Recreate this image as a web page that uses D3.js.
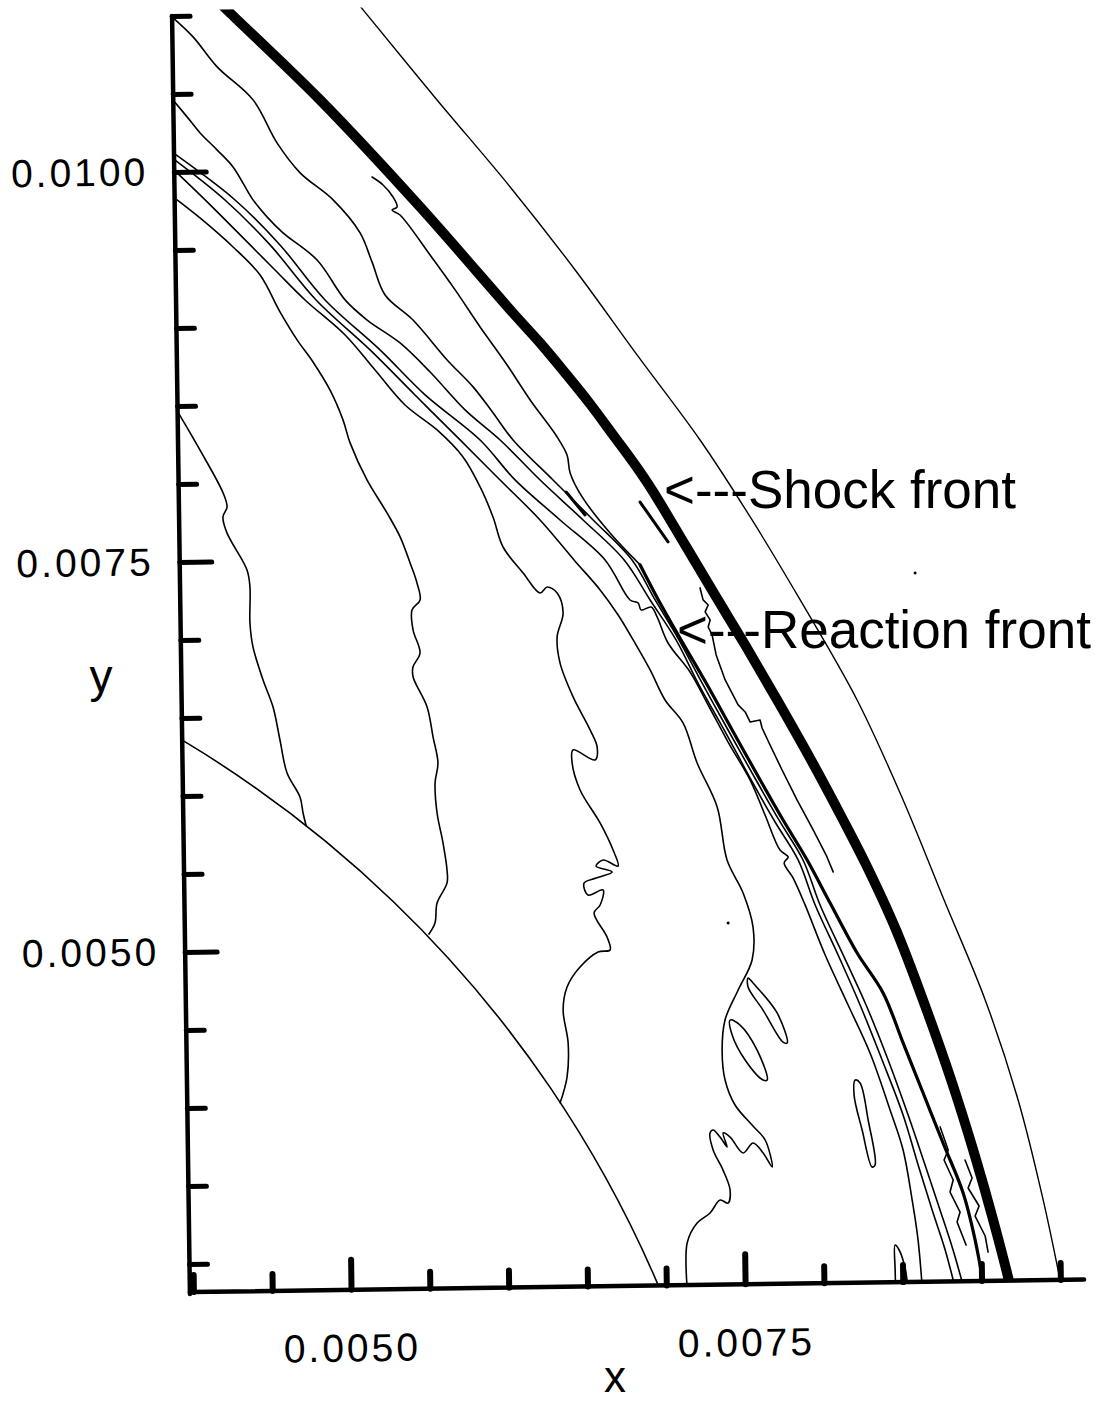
<!DOCTYPE html>
<html>
<head>
<meta charset="utf-8">
<script src="https://cdn.jsdelivr.net/npm/d3@7"></script>
<style>
  html, body { margin: 0; padding: 0; background: #fff; }
  svg { display: block; }
  text { font-family: "Liberation Sans", Arial, Helvetica, sans-serif; fill: #000; }
</style>
</head>
<body>
<svg id="chart" width="1106" height="1405"></svg>
<script>
// All coordinates below are in units of 1e-3 (x, y).

// Axis ticks
const xMajorTicks = [5.0, 7.5];
const xMinorTicks = [4.0, 4.5, 5.5, 6.0, 6.5, 7.0, 8.0, 8.5, 9.0, 9.5];
const yMajorTicks = [5.0, 7.5, 10.0];
const yMinorTicks = [3.0, 3.5, 4.0, 4.5, 5.5, 6.0, 6.5, 7.0, 8.0, 8.5, 9.0, 9.5, 10.5, 11.0];
const xTickLabels = ["0.0050", "0.0075"];
const yTickLabels = ["0.0050", "0.0075", "0.0100"];
const xDomain = [4.0, 9.65];
const yDomain = [2.82, 11.0];

// Initial charge boundary (circle about the origin)
const chargeRadius = 7.5;

// Outermost contour
const outerContour = [[5.140,11.087],[5.190,11.022],[5.651,10.438],[6.107,9.874],[6.512,9.336],[6.897,8.786],[7.289,8.235],[7.612,7.718],[7.910,7.201],[8.262,6.555],[8.545,5.910],[8.796,5.265],[9.048,4.621],[9.248,3.977],[9.398,3.334],[9.510,2.755]];

// Shock front
const shockFront = [[4.283,11.079],[4.346,11.014],[4.909,10.449],[5.534,9.754],[6.114,9.066],[6.283,8.872],[6.445,8.670],[6.595,8.476],[6.738,8.275],[6.875,8.081],[6.980,7.919],[7.185,7.564],[7.377,7.228],[7.557,6.917],[7.755,6.562],[7.965,6.174],[8.163,5.787],[8.305,5.497],[8.489,5.077],[8.660,4.607],[8.825,4.111],[8.964,3.641],[9.079,3.210],[9.187,2.759],[9.205,2.663]];

// Reaction front: thin upper part and heavy lower part
const reactionUpper = [[5.232,9.950],[5.301,9.898],[5.363,9.820],[5.388,9.756],[5.356,9.737],[5.406,9.704],[5.593,9.445],[5.749,9.219],[5.904,8.979],[6.059,8.753],[6.215,8.507],[6.383,8.267],[6.444,8.151],[6.462,8.036],[6.536,7.881],[6.710,7.647],[6.898,7.440]];
const reactionFront = [[6.898,7.440],[7.021,7.194],[7.151,6.955],[7.306,6.677],[7.467,6.374],[7.640,6.051],[7.782,5.792],[7.931,5.534],[8.073,5.256],[8.240,4.933],[8.401,4.675],[8.524,4.352],[8.646,4.030],[8.768,3.708],[8.891,3.386],[8.963,3.083],[9.027,2.698]];

// Interior contours, top of the y axis downwards
const contourTop = [[3.984,10.988],[4.109,10.864],[4.259,10.670],[4.484,10.455],[4.632,10.177],[4.776,9.983],[4.983,9.807],[5.151,9.593],[5.224,9.406],[5.304,9.193],[5.479,9.030],[5.692,8.771],[5.854,8.596],[5.979,8.427],[6.103,8.252],[6.353,7.992],[6.604,7.732],[6.847,7.472],[6.990,7.214],[7.138,6.955],[7.287,6.665],[7.441,6.374],[7.614,6.051],[7.763,5.780],[7.905,5.534],[8.009,5.244],[8.151,4.922],[8.292,4.599],[8.427,4.245],[8.549,3.890],[8.652,3.568],[8.743,3.279],[8.822,3.021],[8.907,2.699]];
const contourSecond = [[3.976,10.462],[4.064,10.352],[4.145,10.248],[4.251,10.138],[4.351,10.027],[4.475,9.814],[4.562,9.704],[4.662,9.600],[4.876,9.423],[5.050,9.165],[5.188,9.034],[5.395,8.884],[5.583,8.695],[5.801,8.449],[6.021,8.253],[6.271,7.993],[6.540,7.733],[6.797,7.473],[6.958,7.214],[7.119,6.956],[7.261,6.665],[7.416,6.375],[7.583,6.052],[7.731,5.780],[7.874,5.535],[7.978,5.245],[8.119,4.922],[8.254,4.600],[8.389,4.245],[8.517,3.891],[8.608,3.569],[8.693,3.279],[8.772,3.022],[8.850,2.700]];
const contourJagged = [[3.991,10.109],[4.361,9.815],[4.642,9.523],[4.923,9.166],[5.267,8.841],[5.549,8.549],[5.894,8.255],[6.112,7.996],[6.394,7.735],[6.676,7.475],[6.831,7.216],[6.882,7.196],[6.900,7.151],[6.964,7.169],[7.001,7.105],[7.068,6.937],[7.205,6.749],[7.317,6.536],[7.440,6.297],[7.576,6.052],[7.668,5.826],[7.760,5.600],[7.811,5.555],[7.785,5.517],[7.840,5.420],[7.914,5.246],[8.037,4.923],[8.178,4.601],[8.313,4.291],[8.435,3.924],[8.514,3.667],[8.567,3.345],[8.601,3.088],[8.628,2.703]];
const contourWavyRight = [[3.990,10.071],[4.297,9.816],[4.579,9.524],[4.866,9.167],[5.204,8.842],[5.485,8.549],[5.767,8.257],[6.017,7.997],[6.267,7.737],[6.479,7.478],[6.642,7.283],[6.754,7.121],[6.847,6.960],[6.952,6.766],[7.044,6.572],[7.156,6.423],[7.242,6.165],[7.365,5.882],[7.423,5.541],[7.522,5.328],[7.582,5.109],[7.573,4.898],[7.482,4.707],[7.396,4.516],[7.375,4.324],[7.391,4.131],[7.452,3.970],[7.558,3.840],[7.640,3.743],[7.682,3.569],[7.626,3.660],[7.563,3.725],[7.499,3.662],[7.418,3.765],[7.374,3.792],[7.398,3.702],[7.354,3.766],[7.311,3.812],[7.291,3.793],[7.309,3.684],[7.370,3.554],[7.413,3.426],[7.399,3.342],[7.349,3.362],[7.284,3.280],[7.201,3.217],[7.136,3.090],[7.137,2.724]];
const contourWavyMid = [[3.989,10.000],[4.171,9.818],[4.390,9.591],[4.608,9.363],[4.796,9.168],[5.047,8.940],[5.234,8.713],[5.421,8.486],[5.622,8.323],[5.784,8.148],[5.890,7.954],[5.969,7.760],[6.030,7.567],[6.155,7.399],[6.261,7.269],[6.306,7.307],[6.369,7.268],[6.405,7.139],[6.365,6.986],[6.381,6.819],[6.461,6.600],[6.566,6.387],[6.609,6.277],[6.595,6.194],[6.456,6.260],[6.449,6.177],[6.497,6.003],[6.621,5.790],[6.701,5.615],[6.731,5.512],[6.637,5.552],[6.592,5.514],[6.693,5.474],[6.591,5.437],[6.514,5.406],[6.538,5.329],[6.634,5.360],[6.614,5.264],[6.575,5.213],[6.655,5.058],[6.673,4.975],[6.597,4.963],[6.481,4.868],[6.397,4.741],[6.370,4.594],[6.399,4.382],[6.389,4.164],[6.343,4.000]];
const contourWavyLeft = [[3.993,9.821],[4.137,9.703],[4.344,9.514],[4.513,9.332],[4.636,9.094],[4.742,8.913],[4.841,8.770],[4.946,8.589],[5.026,8.396],[5.069,8.248],[5.173,8.009],[5.297,7.796],[5.378,7.641],[5.439,7.473],[5.481,7.344],[5.499,7.235],[5.447,7.172],[5.452,7.043],[5.494,6.895],[5.448,6.806],[5.448,6.742],[5.534,6.549],[5.569,6.356],[5.598,6.189],[5.578,6.061],[5.588,5.868],[5.623,5.676],[5.646,5.502],[5.645,5.419],[5.580,5.291],[5.565,5.163],[5.526,5.093]];
const contourInner = [[3.986,8.449],[4.116,8.216],[4.259,7.939],[4.283,7.848],[4.256,7.785],[4.280,7.682],[4.404,7.443],[4.421,7.334],[4.418,7.103],[4.435,6.949],[4.496,6.736],[4.557,6.562],[4.598,6.350],[4.640,6.138],[4.720,5.983],[4.738,5.880],[4.756,5.800]];

// Short jagged contour pieces between the reaction front and the shock
const jaggedBehindShock = [[7.276,7.287],[7.294,7.210],[7.326,7.177],[7.306,7.133],[7.337,7.081],[7.324,7.036],[7.348,6.985],[7.372,6.856],[7.427,6.695],[7.507,6.534],[7.551,6.488],[7.582,6.423],[7.645,6.435],[7.657,6.384],[7.706,6.274],[7.780,6.113],[7.873,5.919],[7.972,5.726],[8.052,5.564],[8.095,5.455]];
const jaggedLowA = [[8.751,3.811],[8.800,3.662],[8.773,3.599],[8.829,3.470],[8.808,3.393],[8.870,3.264],[8.850,3.200],[8.905,3.052]];
const jaggedLowB = [[8.906,3.597],[8.949,3.481],[8.923,3.417],[8.991,3.301],[8.965,3.237],[9.027,3.108],[9.044,3.005]];
const tongueAtAxis = [[8.456,2.706],[8.453,2.898],[8.455,3.058],[8.480,3.026],[8.516,2.910],[8.539,2.705]];
const dashUpper = [[6.435,7.914],[6.553,7.765]];
const dashLower = [[6.903,7.843],[7.077,7.585]];

// Closed islands
const islandA = [[7.546,4.783],[7.577,4.750],[7.727,4.556],[7.788,4.363],[7.762,4.369],[7.638,4.576],[7.545,4.725]];
const islandB = [[7.428,4.515],[7.491,4.482],[7.597,4.320],[7.658,4.127],[7.632,4.128],[7.520,4.258],[7.440,4.419]];
const islandC = [[8.216,4.119],[8.247,4.100],[8.295,3.862],[8.335,3.573],[8.316,3.560],[8.256,3.798],[8.208,4.023]];

// Tiny isolated contour specks
const specks = [[8.641,7.364],[7.424,5.137]];

// Annotations
const annotations = [
  { text: "<---Shock front", x: 664, y: 508 },
  { text: "<---Reaction front", x: 677, y: 648 }
];

// ---------------------------------------------------------------
const svg = d3.select("#chart");

const x = d3.scaleLinear().domain(xDomain).range([193.4, 1084.1]);
const y = d3.scaleLinear().domain(yDomain).range([1292, 15.8]);

const originX = x(xDomain[0]), originY = y(yDomain[0]);
const yAxisX = originX - 3.5;

// the whole frame sits slightly tilted on the page
const frame = svg.append("g")
  .attr("transform", `rotate(-0.8, ${originX}, ${originY})`);

frame.append("clipPath").attr("id", "plotClip")
  .append("rect")
  .attr("x", yAxisX).attr("y", 10)
  .attr("width", 1100 - yAxisX).attr("height", originY - 10);

const plot = frame.append("g").attr("clip-path", "url(#plotClip)");

const smooth = d3.line().x(d => x(d[0])).y(d => y(d[1])).curve(d3.curveCatmullRom.alpha(0.5));
const straight = d3.line().x(d => x(d[0])).y(d => y(d[1])).curve(d3.curveLinear);
const closed = d3.line().x(d => x(d[0])).y(d => y(d[1])).curve(d3.curveCatmullRomClosed.alpha(0.5));

// charge boundary
plot.append("ellipse")
  .attr("cx", x(0)).attr("cy", y(0))
  .attr("rx", x(chargeRadius) - x(0))
  .attr("ry", y(0) - y(chargeRadius))
  .attr("fill", "none").attr("stroke", "#000").attr("stroke-width", 1.6);

const series = [
  { data: outerContour, gen: smooth, w: 1.4 },
  { data: contourInner, gen: smooth, w: 1.6 },
  { data: contourWavyLeft, gen: smooth, w: 1.6 },
  { data: contourWavyMid, gen: smooth, w: 1.6 },
  { data: contourWavyRight, gen: smooth, w: 1.6 },
  { data: contourJagged, gen: smooth, w: 1.6 },
  { data: contourSecond, gen: smooth, w: 1.6 },
  { data: contourTop, gen: smooth, w: 1.6 },
  { data: reactionUpper, gen: smooth, w: 1.6 },
  { data: reactionFront, gen: smooth, w: 3.2 },
  { data: jaggedBehindShock, gen: straight, w: 1.6 },
  { data: jaggedLowA, gen: straight, w: 1.6 },
  { data: jaggedLowB, gen: straight, w: 1.6 },
  { data: tongueAtAxis, gen: smooth, w: 1.6 },
  { data: dashUpper, gen: straight, w: 3 },
  { data: dashLower, gen: straight, w: 3 },
  { data: islandA, gen: closed, w: 1.6 },
  { data: islandB, gen: closed, w: 1.6 },
  { data: islandC, gen: closed, w: 1.6 },
  { data: shockFront, gen: smooth, w: 10 }
];

plot.selectAll("path.contour")
  .data(series)
  .join("path")
  .attr("class", "contour")
  .attr("d", s => s.gen(s.data))
  .attr("fill", "none")
  .attr("stroke", "#000")
  .attr("stroke-width", s => s.w)
  .attr("stroke-linejoin", "round")
  .attr("stroke-linecap", "round");

plot.selectAll("circle.speck")
  .data(specks)
  .join("circle")
  .attr("class", "speck")
  .attr("cx", d => x(d[0])).attr("cy", d => y(d[1]))
  .attr("r", 1.5).attr("fill", "#000");

// ---- axes ----
const tickFont = g => g.selectAll("text")
  .style("font-family", '"Liberation Sans", Arial, sans-serif')
  .style("font-size", "39px")
  .style("letter-spacing", "3px")
  .attr("fill", "#000");

const yMinorAxis = d3.axisLeft(y).tickValues(yMinorTicks).tickSize(-18).tickFormat("");
const yMajorAxis = d3.axisLeft(y).tickValues(yMajorTicks).tickSize(-32).tickPadding(26)
  .tickFormat((d, i) => yTickLabels[i]);

const yg1 = frame.append("g").attr("transform", `translate(${yAxisX},0)`).call(yMinorAxis);
const yg2 = frame.append("g").attr("transform", `translate(${yAxisX},0)`).call(yMajorAxis);
[yg1, yg2].forEach(g => {
  g.select(".domain").remove();
  g.selectAll(".tick line").attr("stroke", "#000").attr("stroke-width", 5).attr("stroke-linecap", "round");
});
tickFont(yg2);

const xMinorAxis = d3.axisBottom(x).tickValues(xMinorTicks).tickSize(-17).tickFormat("");
const xMajorAxis = d3.axisBottom(x).tickValues(xMajorTicks).tickSize(-30).tickPadding(44)
  .tickFormat((d, i) => xTickLabels[i]);

const xg1 = frame.append("g").attr("transform", `translate(0,${originY})`).call(xMinorAxis);
const xg2 = frame.append("g").attr("transform", `translate(0,${originY})`).call(xMajorAxis);
[xg1, xg2].forEach(g => {
  g.select(".domain").remove();
  g.selectAll(".tick line").attr("stroke", "#000").attr("stroke-width", 6).attr("stroke-linecap", "round");
});
tickFont(xg2);

// axis lines
frame.append("line")
  .attr("x1", yAxisX).attr("x2", yAxisX)
  .attr("y1", y(yDomain[1])).attr("y2", originY + 2)
  .attr("stroke", "#000").attr("stroke-width", 4.5).attr("stroke-linecap", "round");
frame.append("line")
  .attr("x1", yAxisX).attr("x2", x(xDomain[1]))
  .attr("y1", originY).attr("y2", originY)
  .attr("stroke", "#000").attr("stroke-width", 4.5).attr("stroke-linecap", "round");

// axis titles
svg.append("text").attr("x", 101).attr("y", 692)
  .attr("text-anchor", "middle").style("font-size", "46px").text("y");
svg.append("text").attr("x", 615).attr("y", 1392)
  .attr("text-anchor", "middle").style("font-size", "44px").text("x");

// front annotations
svg.selectAll("text.note")
  .data(annotations)
  .join("text")
  .attr("class", "note")
  .attr("x", d => d.x).attr("y", d => d.y)
  .style("font-size", "53px")
  .text(d => d.text);
</script>
</body>
</html>
